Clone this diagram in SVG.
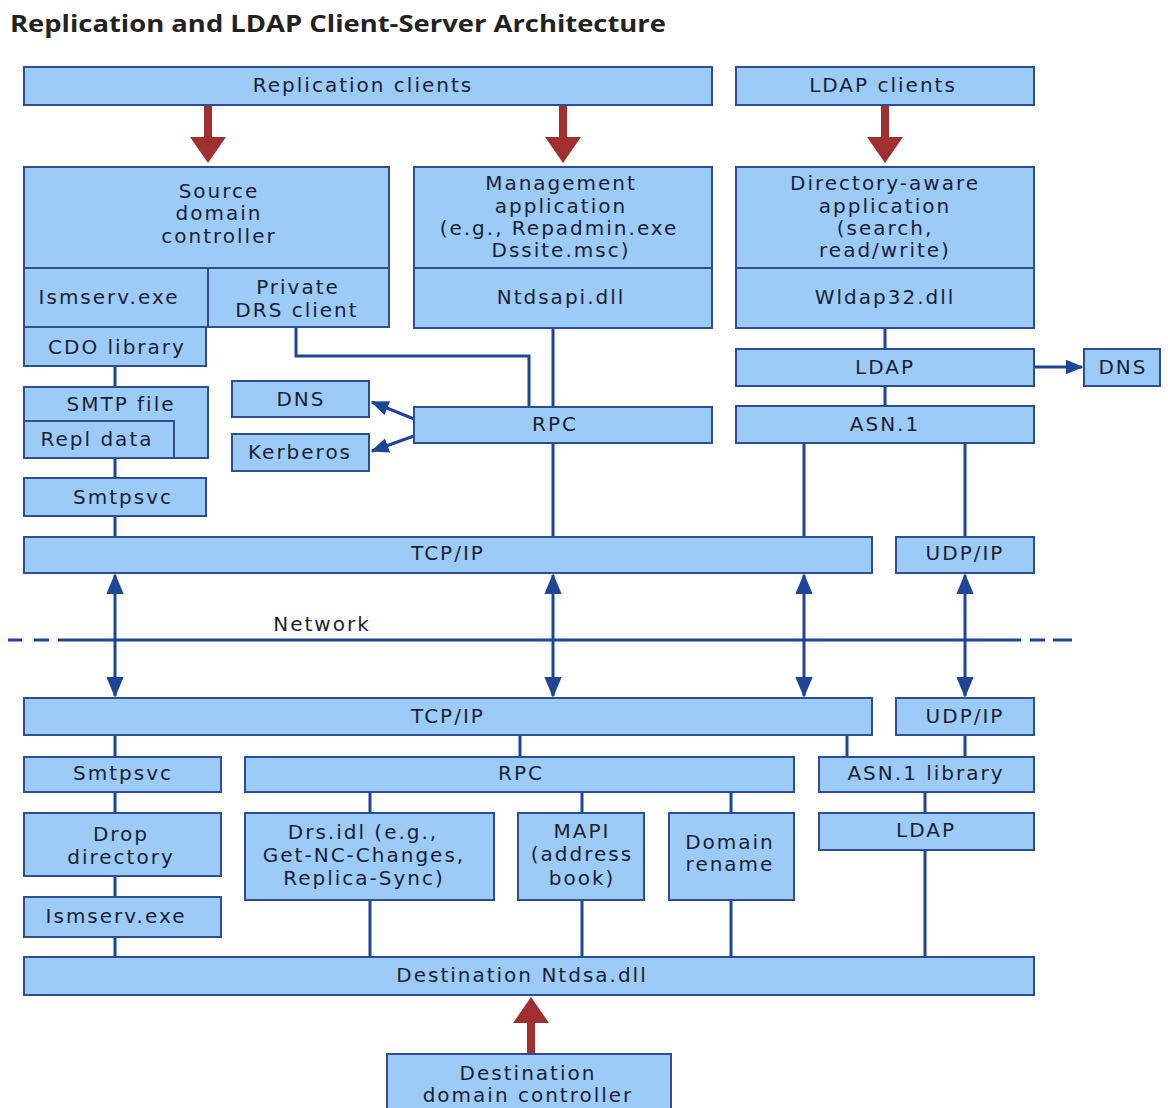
<svg xmlns="http://www.w3.org/2000/svg" width="1168" height="1108" viewBox="0 0 1168 1108">
<defs>
<style>
.b{fill:#9dcbf8;stroke:#2d4f8e;stroke-width:2}
.t{font-family:"DejaVu Sans",Verdana,sans-serif;font-size:20px;letter-spacing:2px;fill:#1b1f33;text-anchor:middle;dominant-baseline:central}
.c{stroke:#1f4596;stroke-width:3;fill:none}
.ra{fill:#a03030}
</style>
<marker id="ah" viewBox="0 0 12 10" refX="11" refY="5" markerWidth="6" markerHeight="5" orient="auto" markerUnits="strokeWidth"><path d="M0,0L12,5L0,10z" fill="#1f4596"/></marker>
<marker id="ah2" viewBox="0 0 12 10" refX="11" refY="5" markerWidth="7" markerHeight="6" orient="auto-start-reverse" markerUnits="strokeWidth"><path d="M0,0L12,5L0,10z" fill="#1f4596"/></marker>
</defs>
<rect width="1168" height="1108" fill="#fff"/>
<text x="10" y="32" font-family="'Open Sans','DejaVu Sans',sans-serif" font-weight="bold" font-size="23" fill="#222" textLength="656" lengthAdjust="spacingAndGlyphs">Replication and LDAP Client-Server Architecture</text>

<g id="connectors">
<path class="c" d="M115,366V387M115,458V478M115,516V537"/>
<path class="c" d="M296,327V356H529V407"/>
<path class="c" d="M553,328V407M553,443V537"/>
<path class="c" d="M885,328V349M885,386V406"/>
<path class="c" d="M804,443V537M965,443V537"/>
<path class="c" d="M414,419L372,402" marker-end="url(#ah)"/>
<path class="c" d="M414,436L372,451" marker-end="url(#ah)"/>
<path class="c" d="M1034,367H1082" marker-end="url(#ah)"/>
<path class="c" d="M8,640H22M34,640H49M58,640H1021M1030,640H1045M1053,640H1072"/>
<path class="c" d="M115,575V696" marker-start="url(#ah2)" marker-end="url(#ah2)"/>
<path class="c" d="M553,575V696" marker-start="url(#ah2)" marker-end="url(#ah2)"/>
<path class="c" d="M804,575V696" marker-start="url(#ah2)" marker-end="url(#ah2)"/>
<path class="c" d="M965,575V696" marker-start="url(#ah2)" marker-end="url(#ah2)"/>
<path class="c" d="M115,735V757M520,735V757M847,735V757M965,735V757"/>
<path class="c" d="M115,792V813M115,876V897M115,937V957"/>
<path class="c" d="M370,792V813M370,900V957"/>
<path class="c" d="M582,792V813M582,900V957"/>
<path class="c" d="M731,792V813M731,900V957"/>
<path class="c" d="M925,792V813M925,850V957"/>
<path class="ra" d="M204,105h8v32h14l-18,26l-18,-26h14z"/>
<path class="ra" d="M559,105h8v32h14l-18,26l-18,-26h14z"/>
<path class="ra" d="M881,105h8v32h14l-18,26l-18,-26h14z"/>
<path class="ra" d="M527,1054h8v-31h14l-18,-26l-18,26h14z"/>
</g>

<g id="replication-clients"><rect class="b" x="24" y="67" width="688" height="38"/><text class="t" x="363" y="85">Replication clients</text></g>
<g id="ldap-clients"><rect class="b" x="736" y="67" width="298" height="38"/><text class="t" x="883" y="85">LDAP clients</text></g>

<g id="source-dc"><rect class="b" x="24" y="167" width="365" height="101"/><text class="t" x="219" y="191">Source</text><text class="t" x="219" y="213">domain</text><text class="t" x="219" y="236">controller</text></g>
<g id="ismserv-top"><rect class="b" x="24" y="268" width="184" height="59"/><text class="t" x="109" y="297">Ismserv.exe</text></g>
<g id="private-drs"><rect class="b" x="208" y="268" width="181" height="59"/><text class="t" x="298" y="287">Private</text><text class="t" x="297" y="310">DRS client</text></g>
<g id="cdo"><rect class="b" x="24" y="327" width="182" height="39"/><text class="t" x="117" y="347">CDO library</text></g>

<g id="mgmt-app"><rect class="b" x="414" y="167" width="298" height="101"/><text class="t" x="561" y="183">Management</text><text class="t" x="561" y="206">application</text><text class="t" x="559" y="228">(e.g., Repadmin.exe</text><text class="t" x="561" y="250">Dssite.msc)</text></g>
<g id="ntdsapi"><rect class="b" x="414" y="268" width="298" height="60"/><text class="t" x="561" y="297">Ntdsapi.dll</text></g>

<g id="dir-app"><rect class="b" x="736" y="167" width="298" height="101"/><text class="t" x="885" y="183">Directory-aware</text><text class="t" x="885" y="206">application</text><text class="t" x="885" y="228">(search,</text><text class="t" x="885" y="250">read/write)</text></g>
<g id="wldap32"><rect class="b" x="736" y="268" width="298" height="60"/><text class="t" x="885" y="297">Wldap32.dll</text></g>

<g id="smtp-file"><rect class="b" x="24" y="387" width="184" height="71"/><text class="t" x="121" y="404">SMTP file</text></g>
<g id="repl-data"><rect class="b" x="24" y="421" width="150" height="37"/><text class="t" x="97" y="439">Repl data</text></g>
<g id="smtpsvc-top"><rect class="b" x="24" y="478" width="182" height="38"/><text class="t" x="123" y="497">Smtpsvc</text></g>

<g id="dns-left"><rect class="b" x="232" y="381" width="137" height="36"/><text class="t" x="301" y="399">DNS</text></g>
<g id="kerberos"><rect class="b" x="232" y="434" width="137" height="37"/><text class="t" x="300" y="452">Kerberos</text></g>
<g id="rpc-top"><rect class="b" x="414" y="407" width="298" height="36"/><text class="t" x="555" y="424">RPC</text></g>

<g id="ldap-top"><rect class="b" x="736" y="349" width="298" height="37"/><text class="t" x="885" y="367">LDAP</text></g>
<g id="dns-right"><rect class="b" x="1084" y="349" width="76" height="37"/><text class="t" x="1123" y="367">DNS</text></g>
<g id="asn1-top"><rect class="b" x="736" y="406" width="298" height="37"/><text class="t" x="885" y="424">ASN.1</text></g>

<g id="tcpip-top"><rect class="b" x="24" y="537" width="848" height="36"/><text class="t" x="448" y="553">TCP/IP</text></g>
<g id="udpip-top"><rect class="b" x="896" y="537" width="138" height="36"/><text class="t" x="965" y="553">UDP/IP</text></g>

<g id="network"><text class="t" x="322" y="624">Network</text></g>

<g id="tcpip-bottom"><rect class="b" x="24" y="698" width="848" height="37"/><text class="t" x="448" y="716">TCP/IP</text></g>
<g id="udpip-bottom"><rect class="b" x="896" y="698" width="138" height="37"/><text class="t" x="965" y="716">UDP/IP</text></g>

<g id="smtpsvc-bottom"><rect class="b" x="24" y="757" width="197" height="35"/><text class="t" x="123" y="773">Smtpsvc</text></g>
<g id="rpc-bottom"><rect class="b" x="245" y="757" width="549" height="35"/><text class="t" x="521" y="773">RPC</text></g>
<g id="asn1-library"><rect class="b" x="819" y="757" width="215" height="35"/><text class="t" x="926" y="773">ASN.1 library</text></g>

<g id="drop-directory"><rect class="b" x="24" y="813" width="197" height="63"/><text class="t" x="121" y="834">Drop</text><text class="t" x="121" y="857">directory</text></g>
<g id="ismserv-bottom"><rect class="b" x="24" y="897" width="197" height="40"/><text class="t" x="116" y="916">Ismserv.exe</text></g>
<g id="drs-idl"><rect class="b" x="245" y="813" width="249" height="87"/><text class="t" x="363" y="832">Drs.idl (e.g.,</text><text class="t" x="364" y="855">Get-NC-Changes,</text><text class="t" x="364" y="878">Replica-Sync)</text></g>
<g id="mapi"><rect class="b" x="518" y="813" width="126" height="87"/><text class="t" x="582" y="831">MAPI</text><text class="t" x="582" y="854">(address</text><text class="t" x="582" y="878">book)</text></g>
<g id="domain-rename"><rect class="b" x="669" y="813" width="125" height="87"/><text class="t" x="730" y="842">Domain</text><text class="t" x="730" y="864">rename</text></g>
<g id="ldap-bottom"><rect class="b" x="819" y="813" width="215" height="37"/><text class="t" x="926" y="830">LDAP</text></g>

<g id="dest-ntdsa"><rect class="b" x="24" y="957" width="1010" height="38"/><text class="t" x="522" y="975">Destination Ntdsa.dll</text></g>
<g id="dest-dc"><rect class="b" x="387" y="1054" width="284" height="60"/><text class="t" x="528" y="1073">Destination</text><text class="t" x="528" y="1095">domain controller</text></g>
</svg>
